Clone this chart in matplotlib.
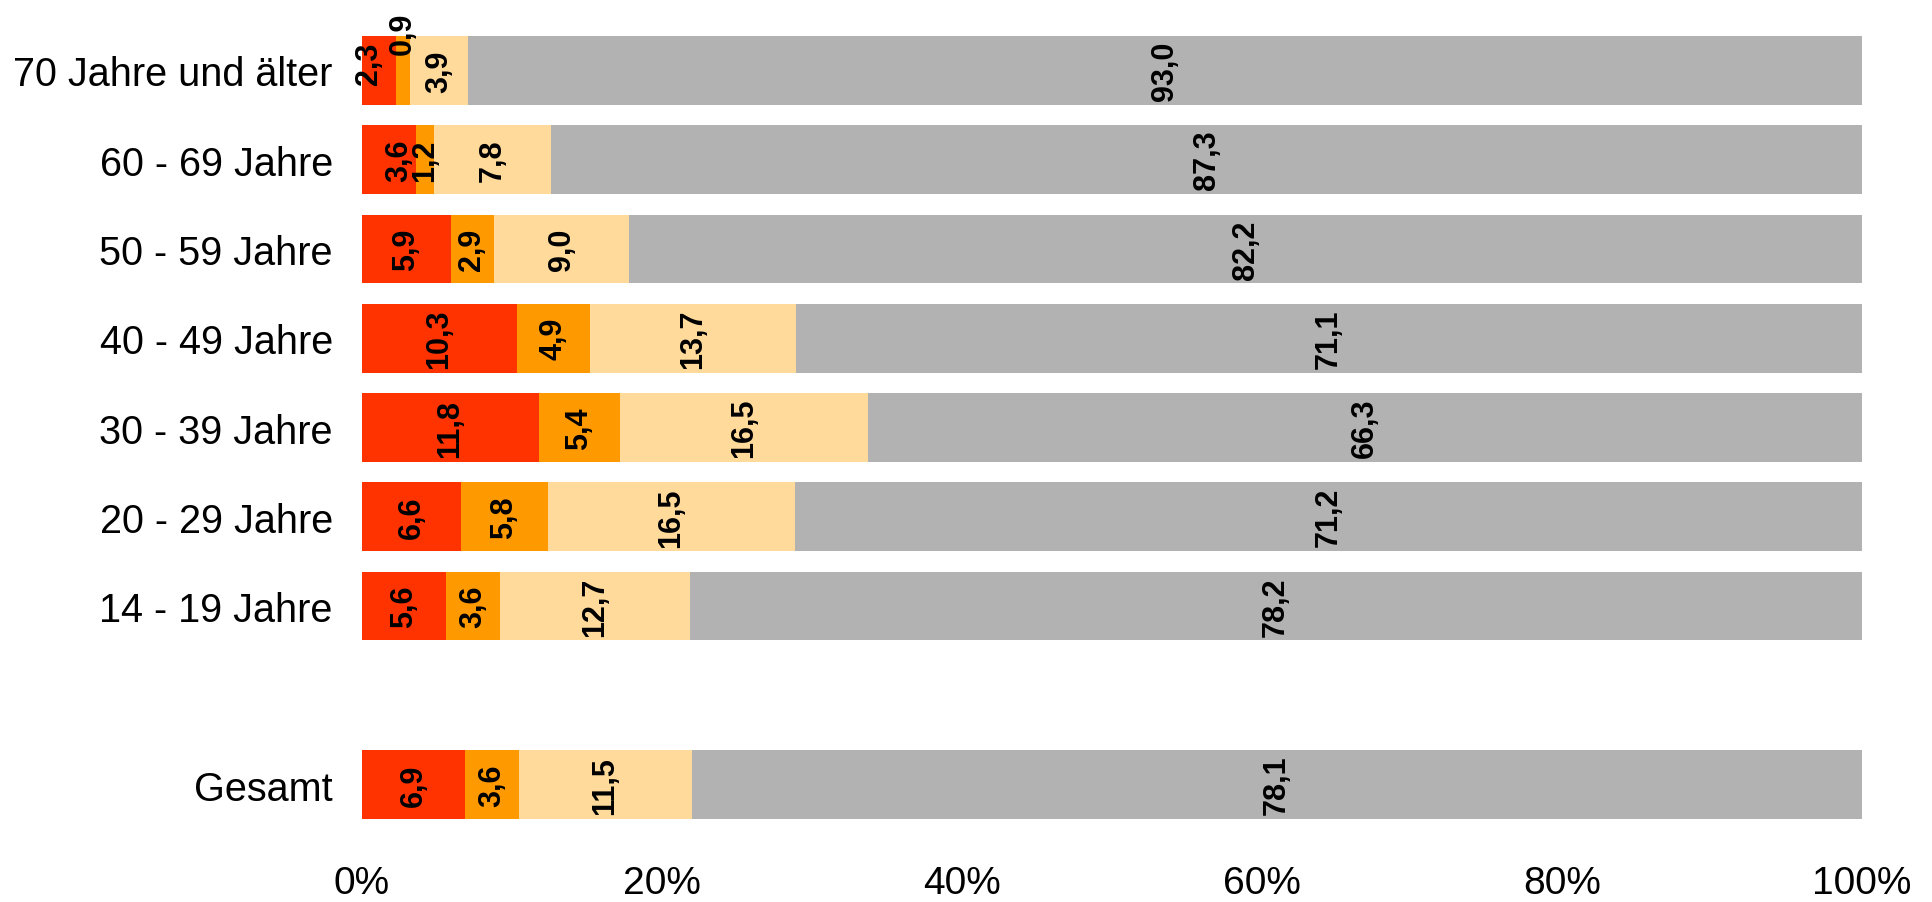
import numpy as np
import matplotlib
matplotlib.use('Agg')
import matplotlib.pyplot as plt
from matplotlib.ticker import FuncFormatter

plt.rcParams['font.family'] = ['Liberation Sans', 'DejaVu Sans']

groups = ['70 Jahre und älter', '60 - 69 Jahre', '50 - 59 Jahre', '40 - 49 Jahre',
          '30 - 39 Jahre', '20 - 29 Jahre', '14 - 19 Jahre', 'Gesamt']
red = [2.3, 3.6, 5.9, 10.3, 11.8, 6.6, 5.6, 6.9]
orange = [0.9, 1.2, 2.9, 4.9, 5.4, 5.8, 3.6, 3.6]
light = [3.9, 7.8, 9.0, 13.7, 16.5, 16.5, 12.7, 11.5]
grey = [93.0, 87.3, 82.2, 71.1, 66.3, 71.2, 78.2, 78.1]

colors = ['#FF3300', '#FF9900', '#FFDA9B', '#B2B2B2']
# Gesamt sits one slot lower, after an empty row
ypos = [0, 1, 2, 3, 4, 5, 6, 8]
# label nudges in pixels (row, segment) -> (dx, dy)
nudges = {(0, 0): (-10, 8), (0, 1): (0, 38), (1, 0): (10, 0)}

fig = plt.figure(figsize=(19.32, 9.03), dpi=100)
ax = fig.add_axes([362 / 1932, 1 - 820 / 903, 1500 / 1932, 783 / 903])

series = [red, orange, light, grey]
h = 0.77
for r in range(len(groups)):
    tot = sum(s[r] for s in series)
    left = 0
    for k, s in enumerate(series):
        w = s[r] / tot * 100
        ax.barh(ypos[r], w, left=left, height=h, color=colors[k], linewidth=0)
        dx, dy = nudges.get((r, k), (0, 0))
        ax.annotate(f'{s[r]:.1f}'.replace('.', ','), (left + w / 2, ypos[r]),
                    xytext=(dx * 0.72, dy * 0.72), textcoords='offset points',
                    rotation=90, ha='center', va='center', fontsize=22,
                    fontweight='bold', color='black', annotation_clip=False)
        left += w

ax.set_xlim(0, 100)
ax.set_ylim(8 + h / 2, -h / 2)
ax.set_yticks(ypos)
ax.set_yticklabels(groups, fontsize=28.5)
ax.set_xticks([0, 20, 40, 60, 80, 100])
ax.xaxis.set_major_formatter(FuncFormatter(lambda v, p: f'{v:.0f}%'))
ax.tick_params(axis='x', labelsize=28, length=0, pad=33)
ax.tick_params(axis='y', length=0, pad=21)
for sp in ax.spines.values():
    sp.set_visible(False)

fig.savefig('out.png', dpi=100)
